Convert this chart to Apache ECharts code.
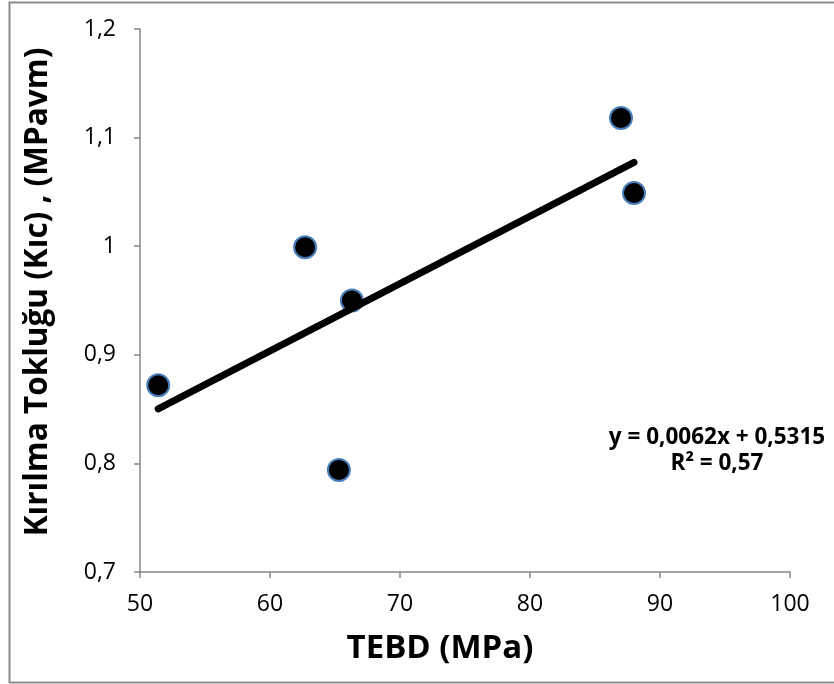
<!DOCTYPE html>
<html>
<head>
<meta charset="utf-8">
<script src="https://cdn.jsdelivr.net/npm/echarts@6/dist/echarts.min.js"></script>
<style>html,body{margin:0;padding:0;background:#fff;}#c{width:834px;height:684px;}</style>
</head>
<body>
<div id="c"></div>
<script>
var tebd = [51.4, 62.7, 66.3, 65.3, 87.0, 88.0];
var kic = [0.872, 0.999, 0.950, 0.794, 1.118, 1.049];
var trendX = [51.4, 88.0];
var trendY = [0.8502, 1.0771];
var xTitle = 'TEBD (MPa)';
var yTitle = 'Kırılma Tokluğu (Kıc) , (MPavm)';
var eqLine1 = 'y = 0,0062x + 0,5315';
var eqLine2 = 'R² = 0,57';

var FONT = '"Open Sans", Lato, sans-serif';
var chart = echarts.init(document.getElementById('c'), null, {renderer: 'canvas'});
var pts = tebd.map(function (x, i) { return [x, kic[i]]; });
var tr = trendX.map(function (x, i) { return [x, trendY[i]]; });
function fmt(v) { var r = Math.round(v * 10) / 10; return String(r).replace('.', ','); }
chart.setOption({
  backgroundColor: '#fff',
  animation: false,
  grid: {left: 140, right: 44, top: 29, bottom: 112, containLabel: false},
  xAxis: {
    type: 'value', min: 50, max: 100, interval: 10,
    axisLine: {show: true, lineStyle: {color: '#878787', width: 1.5}},
    axisTick: {show: true, length: 6, lineStyle: {color: '#878787', width: 1.5}},
    axisLabel: {fontFamily: FONT, fontSize: 23, color: '#000', margin: 21},
    splitLine: {show: false}
  },
  yAxis: {
    type: 'value', min: 0.7, max: 1.2, interval: 0.1,
    axisLine: {show: true, lineStyle: {color: '#878787', width: 1.5}},
    axisTick: {show: true, length: 6, lineStyle: {color: '#878787', width: 1.5}},
    axisLabel: {fontFamily: FONT, fontSize: 23, color: '#000', margin: 24, formatter: fmt},
    splitLine: {show: false}
  },
  series: [
    {
      type: 'scatter', data: pts, symbol: 'circle', symbolSize: 22, z: 2,
      itemStyle: {color: '#000', borderColor: '#4a7ebb', borderWidth: 2, opacity: 1}
    },
    {
      type: 'line', data: tr, symbol: 'none', z: 3,
      lineStyle: {color: '#000', width: 7, cap: 'round'}
    }
  ],
  graphic: [
    {type: 'rect', left: 7, top: 0, shape: {width: 840, height: 680}, silent: true,
     style: {fill: 'none', stroke: '#8c8c8c', lineWidth: 2}},
    {type: 'text', x: 440, y: 649,
     style: {text: xTitle, fontFamily: FONT, fontWeight: 'bold', fontSize: 33, fill: '#000', align: 'center', verticalAlign: 'middle'}},
    {type: 'text', x: 38, y: 292, rotation: Math.PI / 2,
     style: {text: yTitle, fontFamily: FONT, fontWeight: 'bold', fontSize: 31.5, fill: '#000', align: 'center', verticalAlign: 'middle'}},
    {type: 'text', x: 717, y: 438, style: {text: eqLine1, fontFamily: FONT, fontWeight: 'bold', fontSize: 22.5, fill: '#000', align: 'center', verticalAlign: 'middle'}},
    {type: 'text', x: 717, y: 464, style: {text: eqLine2, fontFamily: FONT, fontWeight: 'bold', fontSize: 22.5, fill: '#000', align: 'center', verticalAlign: 'middle'}}
  ]
});
</script>
</body>
</html>
